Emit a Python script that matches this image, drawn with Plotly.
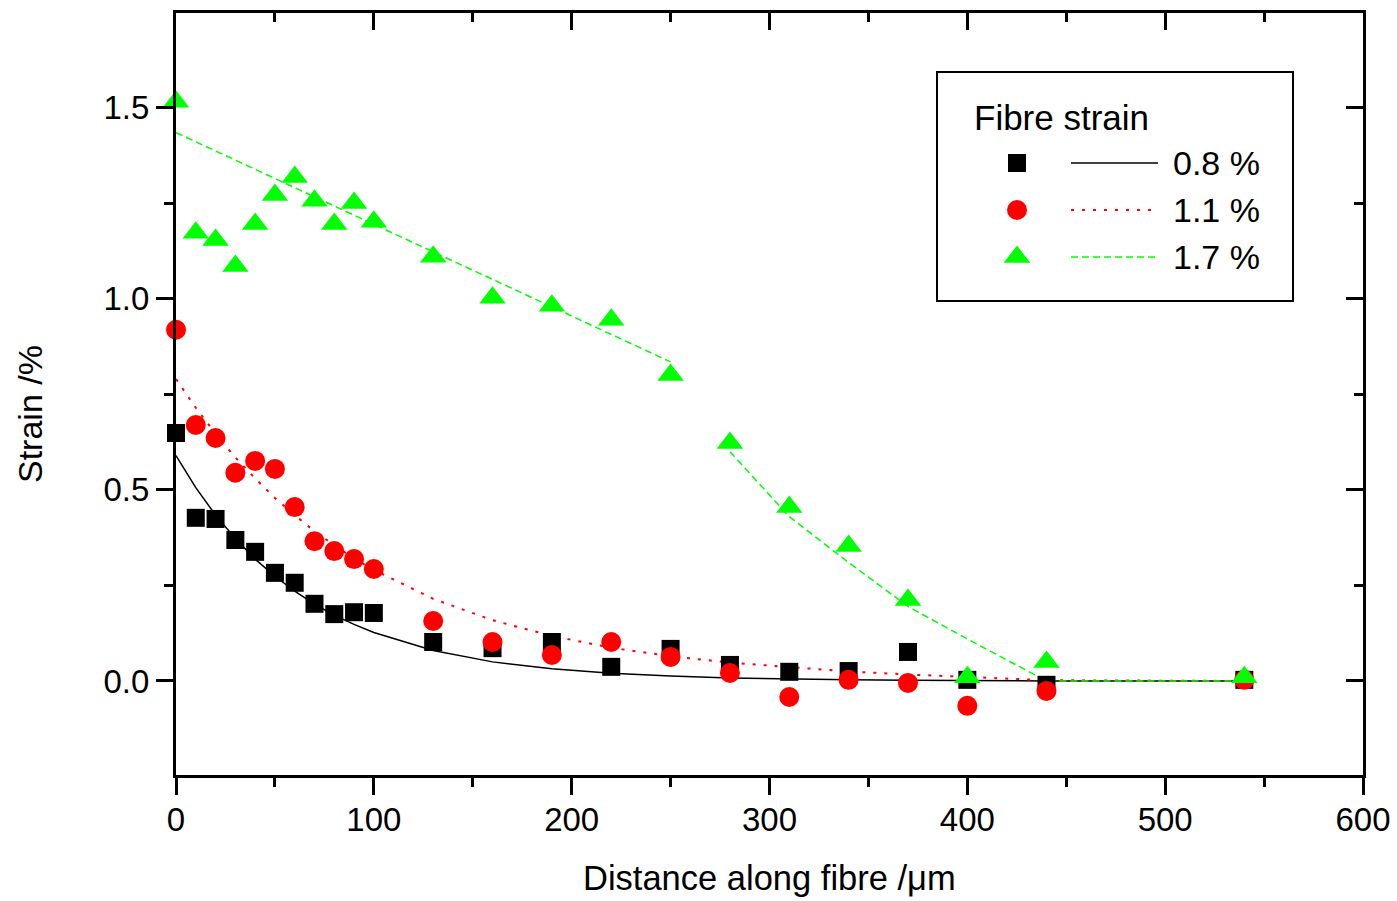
import plotly.graph_objects as go

# ---------------- data ----------------
distance = [0, 10, 20, 30, 40, 50, 60, 70, 80, 90, 100, 130, 160, 190, 220,
            250, 280, 310, 340, 370, 400, 440, 540]

strain_08 = [0.649, 0.427, 0.424, 0.369, 0.338, 0.283, 0.257, 0.202, 0.175, 0.180,
             0.178, 0.102, 0.086, 0.102, 0.037, 0.084, 0.042, 0.024, 0.026, 0.076,
             0.003, -0.010, 0.003]
strain_11 = [0.919, 0.670, 0.636, 0.545, 0.576, 0.555, 0.455, 0.366, 0.340, 0.319,
             0.293, 0.157, 0.102, 0.068, 0.102, 0.063, 0.021, -0.042, 0.003, -0.005,
             -0.065, -0.026, 0.003]
strain_17 = [1.516, 1.173, 1.154, 1.086, 1.196, 1.272, 1.319, 1.257, 1.196, 1.251,
             1.202, 1.110, 1.003, 0.982, 0.945, 0.801, 0.623, 0.455, 0.353, 0.212,
             0.010, 0.050, 0.010]

# fitted curves
fit_08 = [0.590, 0.506, 0.434, 0.373, 0.319, 0.274, 0.235, 0.201, 0.172, 0.148,
          0.127, 0.080, 0.050, 0.032, 0.020, 0.013, 0.008, 0.005, 0.003, 0.002,
          0.001, 0.0, 0.0]
fit_11 = [0.790, 0.715, 0.647, 0.585, 0.530, 0.479, 0.434, 0.392, 0.355, 0.321,
          0.291, 0.215, 0.159, 0.118, 0.087, 0.065, 0.048, 0.036, 0.025, 0.017,
          0.010, 0.002, 0.0]
fit_17_x = [0, 250, None, 280, 310, 340, 370, 400, 440, 540]
fit_17 = [1.435, 0.835, None, 0.600, 0.430, 0.310, 0.195, 0.110, 0.0, 0.0]

legend_title = "Fibre strain"
legend_labels = ["0.8 %", "1.1 %", "1.7 %"]
x_title = "Distance along fibre /μm"
y_title = "Strain /%"

# ---------------- styles ----------------
FONT = "Liberation Sans, Arial, Helvetica, sans-serif"
BLACK, RED, GREEN = "#000000", "#ff0000", "#00ff00"
colors = [BLACK, RED, GREEN]
symbols = ["square", "circle", "triangle-up"]
sizes = [18, 20, 23]
dashes = ["solid", "3px,8px", "7px,4px"]
widths = [1.5, 2, 1.5]

W, H = 1397, 901
L, R, T, B = 176, 34, 13, 126
PH = H - T - B
X_RIGHT = W - R

fig = go.Figure()

# fit lines
fig.add_trace(go.Scatter(x=distance, y=fit_08, mode="lines",
                         line=dict(color=BLACK, width=widths[0], dash=dashes[0]), showlegend=False))
fig.add_trace(go.Scatter(x=distance, y=fit_11, mode="lines",
                         line=dict(color=RED, width=widths[1], dash=dashes[1]), showlegend=False))
fig.add_trace(go.Scatter(x=fit_17_x, y=fit_17, mode="lines", connectgaps=False,
                         line=dict(color=GREEN, width=widths[2], dash=dashes[2]), showlegend=False))

# data markers
for ys, c, s, sz in zip([strain_08, strain_11, strain_17], colors, symbols, sizes):
    fig.add_trace(go.Scatter(x=distance, y=ys, mode="markers",
                             marker=dict(color=c, symbol=s, size=sz, line=dict(width=0)),
                             showlegend=False, cliponaxis=False))

# dummy trace for the mirrored frame axes
fig.add_trace(go.Scatter(x=[None], y=[None], xaxis="x2", yaxis="y2", showlegend=False))

# ---- hand-drawn legend (pixel coordinates on an auxiliary axis pair) ----
leg_marker_x = 1017
leg_rows_y = [163, 210, 257]
line_x0, line_x1 = 1071, 1158
label_x = 1171

for i in range(3):
    fig.add_trace(go.Scatter(x=[leg_marker_x], y=[leg_rows_y[i]], xaxis="x3", yaxis="y3",
                             mode="markers",
                             marker=dict(color=colors[i], symbol=symbols[i], size=sizes[i],
                                         line=dict(width=0)),
                             showlegend=False, cliponaxis=False))
    fig.add_trace(go.Scatter(x=[line_x0, line_x1], y=[leg_rows_y[i]] * 2, xaxis="x3", yaxis="y3",
                             mode="lines",
                             line=dict(color=colors[i], width=widths[i], dash=dashes[i]),
                             showlegend=False))

def fx(p):  # reference pixel -> paper x
    return (p - L) / (X_RIGHT - L)

def fy(p):  # reference pixel -> paper y
    return (H - B - p) / PH

shapes = [dict(type="rect", xref="paper", yref="paper",
               x0=fx(937), x1=fx(1293), y0=fy(301), y1=fy(72),
               line=dict(color="black", width=2), fillcolor="rgba(0,0,0,0)", layer="above")]

annotations = [
    dict(text=legend_title, xref="paper", yref="paper", x=fx(972), y=fy(118),
         xanchor="left", yanchor="middle", showarrow=False,
         font=dict(family=FONT, size=35, color="black")),
    dict(text=x_title, xref="paper", yref="paper", x=fx(769), y=fy(878),
         xanchor="center", yanchor="middle", showarrow=False,
         font=dict(family=FONT, size=34.5, color="black")),
    dict(text=y_title, xref="paper", yref="paper", x=fx(30), y=fy(414),
         xanchor="center", yanchor="middle", showarrow=False, textangle=-90,
         font=dict(family=FONT, size=34, color="black")),
]
for i, lab in enumerate(legend_labels):
    annotations.append(dict(text=lab, xref="paper", yref="paper", x=fx(label_x), y=fy(leg_rows_y[i]),
                            xanchor="left", yanchor="middle", showarrow=False,
                            font=dict(family=FONT, size=34, color="black")))

axis_common = dict(showgrid=False, zeroline=False, showline=True, linecolor="black",
                   linewidth=3, tickcolor="black", tickwidth=2.5, automargin=False)

fig.update_layout(
    width=W, height=H, autosize=False,
    margin=dict(l=L, r=R, t=T, b=B, pad=0, autoexpand=False),
    paper_bgcolor="white", plot_bgcolor="white",
    font=dict(family=FONT, size=33, color="black"),
    showlegend=False,
    xaxis=dict(range=[0, 600], tickmode="linear", tick0=0, dtick=100,
               ticks="outside", ticklen=17, ticklabelstandoff=-4,
               minor=dict(dtick=50, ticks="outside", ticklen=9, tickwidth=2.5, tickcolor="black"),
               tickfont=dict(family=FONT, size=33), fixedrange=True, **axis_common),
    yaxis=dict(range=[-0.246, 1.748], tickmode="linear", tick0=0, dtick=0.5, tickformat=".1f",
               ticks="outside", ticklen=17,
               minor=dict(dtick=0.25, ticks="outside", ticklen=9, tickwidth=2.5, tickcolor="black"),
               tickfont=dict(family=FONT, size=33), fixedrange=True, **axis_common),
    xaxis2=dict(range=[0, 600], overlaying="x", side="top", tickmode="linear", tick0=0, dtick=100,
                ticks="inside", ticklen=17, showticklabels=False,
                minor=dict(dtick=50, ticks="inside", ticklen=9, tickwidth=2.5, tickcolor="black"),
                fixedrange=True, **axis_common),
    yaxis2=dict(range=[-0.246, 1.748], overlaying="y", side="right", tickmode="linear", tick0=0,
                dtick=0.5, ticks="inside", ticklen=17, showticklabels=False,
                minor=dict(dtick=0.25, ticks="inside", ticklen=9, tickwidth=2.5, tickcolor="black"),
                fixedrange=True, **axis_common),
    xaxis3=dict(range=[L, X_RIGHT], overlaying="x", visible=False, fixedrange=True, automargin=False),
    yaxis3=dict(range=[H - B, T], overlaying="y", visible=False, fixedrange=True, automargin=False),
    shapes=shapes,
    annotations=annotations,
)

fig.write_html("out.html", config={"responsive": False})
